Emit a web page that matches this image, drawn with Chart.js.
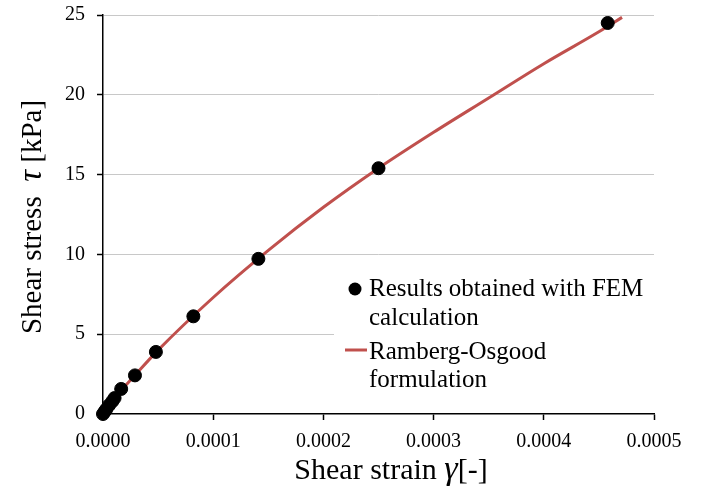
<!DOCTYPE html>
<html>
<head>
<meta charset="utf-8">
<script src="https://cdn.jsdelivr.net/npm/chart.js@4/dist/chart.umd.min.js"></script>
<style>
html,body{margin:0;padding:0;background:#fff;}
#wrap{width:702px;height:495px;}
</style>
</head>
<body>
<div id="wrap"><canvas id="c" width="702" height="495"></canvas></div>
<script>
// FEM results (shear strain [-], shear stress [kPa])
const strainFEM = [0, 0.0000015, 0.000003, 0.0000055, 0.0000085, 0.0000105, 0.0000165, 0.000029, 0.000048, 0.000082, 0.000141, 0.00025, 0.000458];
const stressFEM = [0, 0.15, 0.3, 0.55, 0.8, 1.0, 1.57, 2.42, 3.89, 6.12, 9.72, 15.4, 24.5];
// Ramberg-Osgood curve
const strainRO = [0, 0.00001, 0.00003, 0.00005, 0.0001, 0.00015, 0.0002, 0.00025, 0.0003, 0.00035, 0.0004, 0.00045, 0.000471];
const stressRO = [0, 0.95, 2.5, 4.0, 7.3, 10.25, 12.95, 15.4, 17.65, 19.8, 21.95, 23.95, 24.85];
// Tick labels
const xTicks = [0, 0.0001, 0.0002, 0.0003, 0.0004, 0.0005];
const xTickLabels = ["0.0000", "0.0001", "0.0002", "0.0003", "0.0004", "0.0005"];
const yTicks = [0, 5, 10, 15, 20, 25];
// Text
const legendFEM = ["Results obtained with FEM", "calculation"];
const legendRO = ["Ramberg-Osgood", "formulation"];
const xTitle = ["Shear strain ", "\u03B3", "[-]"];
const yTitle = ["Shear stress  ", "\u03C4", " [kPa]"];

const SERIF = '"Liberation Serif", "Times New Roman", serif';
const RED = '#C0504D';

function drawMixed(ctx, parts, fonts, cx, cy) {
  let widths = parts.map((p, i) => { ctx.font = fonts[i]; return ctx.measureText(p).width; });
  let total = widths.reduce((a, b) => a + b, 0);
  let x = cx - total / 2;
  ctx.textBaseline = 'alphabetic';
  ctx.textAlign = 'left';
  parts.forEach((p, i) => { ctx.font = fonts[i]; ctx.fillText(p, x, cy); x += widths[i]; });
}

const customPlugin = {
  id: 'custom',
  afterDraw(chart) {
    const ctx = chart.ctx;
    ctx.save();
    ctx.fillStyle = '#000';
    // X title
    drawMixed(ctx, xTitle, ['30px ' + SERIF, 'italic 34px ' + SERIF, '30px ' + SERIF], 391, 479);
    // Y title
    ctx.save();
    ctx.translate(41, 217);
    ctx.rotate(-Math.PI / 2);
    drawMixed(ctx, yTitle, ['29px ' + SERIF, 'italic 33px ' + SERIF, '29px ' + SERIF], 0, 0);
    ctx.restore();
    // Legend box
    ctx.fillStyle = '#fff';
    ctx.fillRect(334, 268, 326, 128);
    ctx.fillStyle = '#000';
    ctx.font = '25px ' + SERIF;
    ctx.textAlign = 'left';
    ctx.textBaseline = 'middle';
    ctx.beginPath();
    ctx.arc(355, 289, 6.5, 0, Math.PI * 2);
    ctx.fill();
    ctx.fillText(legendFEM[0], 369, 289);
    ctx.fillText(legendFEM[1], 369, 318);
    ctx.strokeStyle = RED;
    ctx.lineWidth = 3;
    ctx.beginPath();
    ctx.moveTo(345, 350);
    ctx.lineTo(367, 350);
    ctx.stroke();
    ctx.fillText(legendRO[0], 369, 352);
    ctx.fillText(legendRO[1], 369, 380);
    ctx.restore();
  }
};

new Chart(document.getElementById('c'), {
  type: 'scatter',
  data: {
    datasets: [
      {
        label: legendFEM.join(' '),
        data: strainFEM.map((x, i) => ({ x: x, y: stressFEM[i] })),
        backgroundColor: '#000',
        borderColor: '#000',
        pointRadius: 6.5,
        pointHoverRadius: 6.5,
        showLine: false,
        clip: false
      },
      {
        label: legendRO.join(' '),
        data: strainRO.map((x, i) => ({ x: x, y: stressRO[i] })),
        borderColor: RED,
        backgroundColor: RED,
        borderWidth: 3,
        pointRadius: 0,
        showLine: true,
        cubicInterpolationMode: 'monotone'
      }
    ]
  },
  options: {
    responsive: false,
    animation: false,
    events: [],
    layout: { padding: { left: 0, right: 48, top: 15, bottom: 0 } },
    plugins: { legend: { display: false }, tooltip: { enabled: false } },
    scales: {
      x: {
        type: 'linear',
        min: 0, max: 0.0005,
        afterBuildTicks(axis) { axis.ticks = xTicks.map(v => ({ value: v })); },
        afterFit(axis) { axis.height = 81; axis.paddingLeft = 0; axis.paddingRight = 0; },
        ticks: {
          callback(v, i) { return xTickLabels[i]; },
          font: { family: SERIF, size: 20 },
          color: '#000',
          padding: 10,
          maxRotation: 0,
          autoSkip: false
        },
        grid: { drawOnChartArea: false, drawTicks: true, tickLength: 6, tickColor: '#000', tickWidth: 1.5 },
        border: { color: '#000', width: 1.5 }
      },
      y: {
        type: 'linear',
        min: 0, max: 25,
        afterBuildTicks(axis) { axis.ticks = yTicks.map(v => ({ value: v })); },
        afterFit(axis) { axis.width = 103; axis.paddingTop = 0; axis.paddingBottom = 0; },
        ticks: {
          font: { family: SERIF, size: 20 },
          color: '#000',
          padding: 12
        },
        grid: {
          color(ctx) { return ctx.tick && ctx.tick.value === 0 ? 'rgba(0,0,0,0)' : '#c8c8c8'; },
          lineWidth: 1,
          drawTicks: true, tickLength: 6, tickColor: '#000', tickWidth: 1.5
        },
        border: { color: '#000', width: 1.5 }
      }
    }
  },
  plugins: [customPlugin]
});
</script>
</body>
</html>
